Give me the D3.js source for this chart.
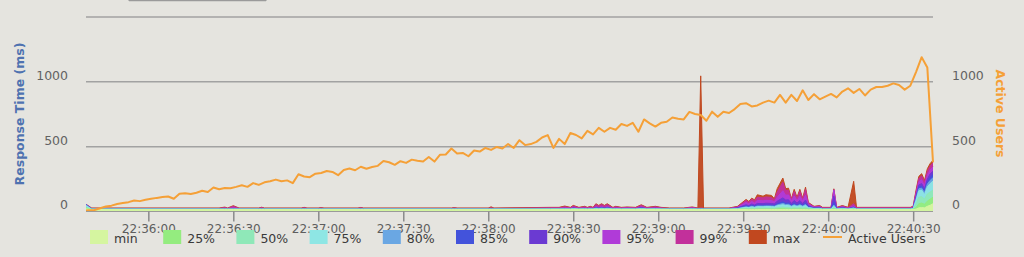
<!DOCTYPE html>
<html><head><meta charset="utf-8">
<script src="https://cdn.jsdelivr.net/npm/d3@7"></script>
<style>
html,body{margin:0;padding:0;background:#e5e4df;}
svg{display:block;}
</style></head><body>
<svg id="chart" width="1024" height="257"></svg>
<script>
// ---------- DATA ----------
// Active users, sampled every 2 s starting 22:35:37
const userStepSec = 2;
const activeUsers = [
  5,10,12,25,38,45,58,65,72,85,
  80,90,98,105,111,116,98,137,140,135,
  145,160,150,185,172,182,180,190,202,190,
  219,205,225,233,246,233,240,219,287,270,
  265,292,297,312,305,280,320,331,318,345,
  330,343,352,390,380,360,388,375,400,392,
  385,420,385,438,440,486,447,452,426,470,
  462,490,475,498,486,520,490,550,512,520,
  537,571,589,490,560,520,605,590,564,622,
  595,645,615,645,630,675,660,684,615,710,
  680,655,684,692,725,715,710,768,752,744,
  700,770,730,770,760,790,829,835,810,818,
  840,855,840,899,840,900,852,935,860,905,
  865,886,907,880,925,950,915,945,895,940,
  960,960,970,988,975,940,970,1075,1190,1110,
  380
];

// Response-time samples: seconds after 22:35:37
const rtSec = [
  1,3,48,50,51,53,55,62,63,64,
  77,78,79,83,84,85,97,98,99,130,
  131,132,143,144,145,165,168,170,172,173,
  175,177,178,179,180,181,182,183,184,185,
  187,188,190,192,195,197,199,202,204,207,
  212,215,217,218,219,228,231,234,235,236,
  237,238,240,241,243,244,245,247,248,249,
  250,251,252,253,254,255,256,258,260,261,
  264,265,266,268,270,272,273,276,292,293,
  294,295,296,297,298,299,300
];
const rtMin = [
  20,15,15,15,15,15,15,15,15,15,
  15,15,15,15,15,15,15,15,15,15,
  15,15,15,15,15,15,15,15,15,15,
  15,15,15,15,15,15,15,15,15,15,
  15,15,15,15,15,15,15,15,15,15,
  15,15,15,15,15,15,15,15,14,15,
  14,15,15,15,15,15,15,16,15,15,
  15,15,15,15,15,15,14,14,14,15,
  15,15,15,14,15,14,15,15,15,15,
  18,28,30,28,40,48,60
];
const rtP25 = [
  26,16,16,16,16,16,16,16,16,16,
  16,16,16,16,16,16,16,16,16,16,
  16,16,16,16,16,16,16,16,16,16,
  16,16,16,16,16,17,16,17,16,17,
  16,16,16,16,16,16,16,16,16,16,
  16,16,16,16,16,16,16,18,17,18,
  17,19,19,19,19,18,20,22,20,20,
  18,20,18,20,18,20,17,16,16,16,
  16,19,16,16,16,17,16,16,16,16,
  30,60,65,55,80,95,110
];
const rtP50 = [
  32,17,17,17,17,17,17,17,17,17,
  17,17,17,17,17,17,17,17,17,17,
  17,17,17,17,17,17,17,17,17,18,
  17,17,17,17,17,19,18,19,18,19,
  17,17,17,17,17,18,17,17,17,17,
  17,17,17,17,17,17,19,24,22,26,
  23,27,26,27,26,25,30,34,31,31,
  26,30,27,30,26,31,22,19,19,17,
  17,28,17,19,17,20,17,17,17,19,
  55,110,115,95,135,150,165
];
const rtP75 = [
  45,18,18,18,18,18,18,18,18,18,
  18,18,18,18,18,18,18,18,18,18,
  18,18,18,18,18,19,19,19,19,21,
  19,20,19,20,19,23,21,23,21,23,
  19,20,19,19,19,21,19,20,19,18,
  18,19,18,18,18,18,21,32,30,35,
  31,37,36,38,37,35,44,52,46,47,
  37,45,38,45,37,46,29,22,23,19,
  19,40,19,23,19,25,19,19,19,22,
  85,160,165,130,190,215,235
];
const rtP80 = [
  50,19,19,19,19,19,19,19,19,19,
  19,19,19,19,19,19,19,19,19,19,
  19,19,19,19,19,20,20,21,20,23,
  20,21,20,21,20,26,23,26,23,26,
  20,21,20,21,20,24,20,21,20,19,
  19,21,19,19,19,19,23,36,33,40,
  35,42,41,43,42,40,50,62,54,55,
  42,52,43,52,42,54,32,24,25,20,
  20,50,20,25,20,27,20,20,20,24,
  95,175,180,145,210,240,260
];
const rtP85 = [
  52,20,20,20,20,20,20,20,20,20,
  20,20,20,20,20,20,20,20,20,20,
  20,20,20,20,20,21,21,22,21,25,
  21,23,21,23,21,29,25,29,25,29,
  21,23,21,22,21,27,21,23,21,20,
  20,22,20,20,20,20,25,42,38,46,
  40,48,47,50,48,46,60,75,64,66,
  48,62,50,62,48,64,36,26,27,21,
  21,70,21,27,21,30,21,21,21,26,
  105,190,195,160,230,265,285
];
const rtP90 = [
  53,21,21,21,21,22,21,21,21,21,
  21,21,21,21,21,21,21,21,21,21,
  21,21,21,21,21,22,22,24,22,27,
  22,25,22,25,22,33,27,33,27,33,
  22,25,22,24,22,30,22,25,22,21,
  21,24,21,21,21,21,28,52,46,58,
  50,62,60,64,62,58,80,105,88,90,
  62,85,65,84,62,88,44,29,30,22,
  22,120,22,30,22,35,22,22,22,29,
  115,205,215,175,250,290,310
];
const rtP95 = [
  54,22,22,24,22,28,22,22,23,22,
  22,23,22,22,23,22,22,23,22,22,
  23,22,22,23,22,24,24,28,24,31,
  24,27,24,27,24,38,31,38,31,38,
  24,27,24,26,24,34,24,27,24,22,
  22,26,22,22,22,22,32,70,60,78,
  66,85,82,86,84,75,110,160,125,128,
  80,120,85,118,82,125,55,33,36,24,
  24,165,24,36,24,45,24,24,24,33,
  130,230,245,200,280,320,345
];
const rtP99 = [
  55,24,24,30,24,40,24,24,30,24,
  24,29,24,24,27,24,24,28,24,24,
  27,24,24,28,24,28,28,36,28,42,
  28,36,28,36,28,54,42,54,42,54,
  28,36,28,32,28,47,28,36,28,24,
  24,32,24,28,24,24,36,85,72,95,
  82,110,105,112,108,90,150,225,160,165,
  92,155,100,155,95,170,64,37,42,28,
  28,170,28,42,28,60,28,28,28,37,
  150,255,275,225,310,350,375
];
const rtMax = [
  56,27,27,34,27,45,27,27,33,27,
  27,32,27,27,30,27,27,31,27,27,
  30,27,27,36,27,32,32,42,32,47,
  32,40,32,40,32,60,47,60,47,60,
  32,40,32,35,32,52,32,40,32,27,
  27,35,27,1046,27,27,40,93,78,103,
  90,129,118,129,124,98,176,258,176,180,
  98,171,110,171,103,188,70,40,46,32,
  32,175,32,46,32,233,32,32,32,40,
  163,271,292,240,330,370,395
];

const seriesNames = ["min","25%","50%","75%","80%","85%","90%","95%","99%","max"];
const seriesColors = ["#d5f5a0","#94ec7f","#8fe8b8","#8ee6e4","#6aa7e3","#4353db","#6b3ad2","#b03bd8","#c2309b","#c1481f"];
const seriesValues = [rtMin,rtP25,rtP50,rtP75,rtP80,rtP85,rtP90,rtP95,rtP99,rtMax];
const usersName = "Active Users";
const usersColor = "#f5a037";
const xTickTimes = ["22:36:00","22:36:30","22:37:00","22:37:30","22:38:00","22:38:30","22:39:00","22:39:30","22:40:00","22:40:30"];
const yTicks = [0,500,1000];
const gridValues = [500,1000,1500];
const leftTitle = "Response Time (ms)";

// ---------- DRAW ----------
const svg = d3.select("#chart");
const base = new Date(2020,0,1,22,35,37);
const t = s => new Date(base.getTime() + s*1000);
const parseHMS = str => { const p = str.split(":").map(Number); return new Date(2020,0,1,p[0],p[1],p[2]); };

const left = 86, right = 933;
const x = d3.scaleTime().domain([t(1), t(300)]).range([left, right]);
const y = d3.scaleLinear().domain([0,1500]).range([211.5, 17]);
const yR = d3.scaleLinear().domain([0,1500]).range([211.5, 17]);

svg.append("rect").attr("width",1024).attr("height",257).attr("fill","#e5e4df");

// partial toolbar at top
const tb = svg.append("g").attr("stroke","#9a9a9a").attr("fill","none");
tb.append("line").attr("x1",129).attr("x2",266).attr("y1",0.5).attr("y2",0.5).attr("stroke-width",1.5);
[129,163,197,232,266].forEach(v=>tb.append("line").attr("x1",v).attr("x2",v).attr("y1",-5).attr("y2",1));

// grid
svg.append("g").selectAll("line").data(gridValues).join("line")
  .attr("x1",left).attr("x2",right)
  .attr("y1",d=>y(d)).attr("y2",d=>y(d))
  .attr("stroke","#a2a2a2").attr("stroke-width",1.5);

svg.append("clipPath").attr("id","plotclip").append("rect")
  .attr("x",left).attr("y",0).attr("width",right-left+1).attr("height",212);

const plot = svg.append("g").attr("clip-path","url(#plotclip)");

// areas: max at back, min at front
for (let k = seriesValues.length-1; k >= 0; k--) {
  const vals = seriesValues[k];
  const pts = rtSec.map((s,i)=>({s, v: vals[i]}));
  const area = d3.area().x(d=>x(t(d.s))).y0(y(0)).y1(d=>y(d.v));
  const line = d3.line().x(d=>x(t(d.s))).y(d=>y(d.v));
  plot.append("path").datum(pts).attr("d",area).attr("fill",seriesColors[k]).attr("fill-opacity",0.95);
  plot.append("path").datum(pts).attr("d",line).attr("fill","none").attr("stroke",seriesColors[k]).attr("stroke-width",1);
}

// active users
const upts = activeUsers.map((v,i)=>({s:i*userStepSec, v}));
plot.append("path").datum(upts)
  .attr("d", d3.line().x(d=>x(t(d.s))).y(d=>yR(d.v)))
  .attr("fill","none").attr("stroke",usersColor).attr("stroke-width",2).attr("stroke-linejoin","round");

// x axis
svg.append("line").attr("x1",left).attr("x2",right).attr("y1",211.5).attr("y2",211.5)
  .attr("stroke","#9a9a9a").attr("stroke-width",1);
const xAxis = d3.axisBottom(x).tickValues(xTickTimes.map(parseHMS))
  .tickFormat(d3.timeFormat("%H:%M:%S")).tickSize(10).tickPadding(3);
const gx = svg.append("g").attr("transform","translate(0,211.5)").call(xAxis);
gx.select(".domain").remove();
gx.selectAll(".tick line").attr("stroke","#8a8a8a").attr("stroke-width",1.5);
gx.selectAll(".tick text").attr("fill","#5e5e5e").attr("font-family","DejaVu Sans").attr("font-size","12px");

// y axes
const fmt = d3.format("d");
const gy = svg.append("g").attr("transform",`translate(${left},0)`)
  .call(d3.axisLeft(y).tickValues(yTicks).tickFormat(fmt).tickSize(0).tickPadding(18));
gy.select(".domain").remove();
gy.selectAll(".tick text").attr("fill","#626262").attr("font-family","DejaVu Sans").attr("font-size","12.5px").attr("dy","-2.6");

const gyr = svg.append("g").attr("transform",`translate(${right},0)`)
  .call(d3.axisRight(yR).tickValues(yTicks).tickFormat(fmt).tickSize(0).tickPadding(19));
gyr.select(".domain").remove();
gyr.selectAll(".tick text").attr("fill","#626262").attr("font-family","DejaVu Sans").attr("font-size","12.5px").attr("dy","-2.6");

// titles
svg.append("text").text(leftTitle)
  .attr("transform","translate(19,114) rotate(-90)")
  .attr("text-anchor","middle").attr("dominant-baseline","central")
  .attr("font-family","DejaVu Sans").attr("font-weight","bold").attr("font-size","12.5px")
  .attr("fill","#4f72b0");
svg.append("text").text(usersName)
  .attr("transform","translate(1000,113.5) rotate(90)")
  .attr("text-anchor","middle").attr("dominant-baseline","central")
  .attr("font-family","DejaVu Sans").attr("font-weight","bold").attr("font-size","12.5px")
  .attr("fill",usersColor);

// legend
const lg = svg.append("g");
const step = 73.2;
seriesNames.forEach((name,k)=>{
  const x0 = 90 + k*step;
  lg.append("rect").attr("x",x0).attr("y",230).attr("width",18).attr("height",14).attr("fill",seriesColors[k]);
  lg.append("text").text(name).attr("x",x0+24).attr("y",243)
    .attr("font-family","DejaVu Sans").attr("font-size","12.5px").attr("fill","#3a3a3a");
});
{
  const x0 = 90 + seriesNames.length*step;
  lg.append("line").attr("x1",x0+1).attr("x2",x0+20).attr("y1",237).attr("y2",237)
    .attr("stroke",usersColor).attr("stroke-width",2);
  lg.append("text").text(usersName).attr("x",x0+26).attr("y",243)
    .attr("font-family","DejaVu Sans").attr("font-size","12.5px").attr("fill","#3a3a3a");
}
</script>
</body></html>
